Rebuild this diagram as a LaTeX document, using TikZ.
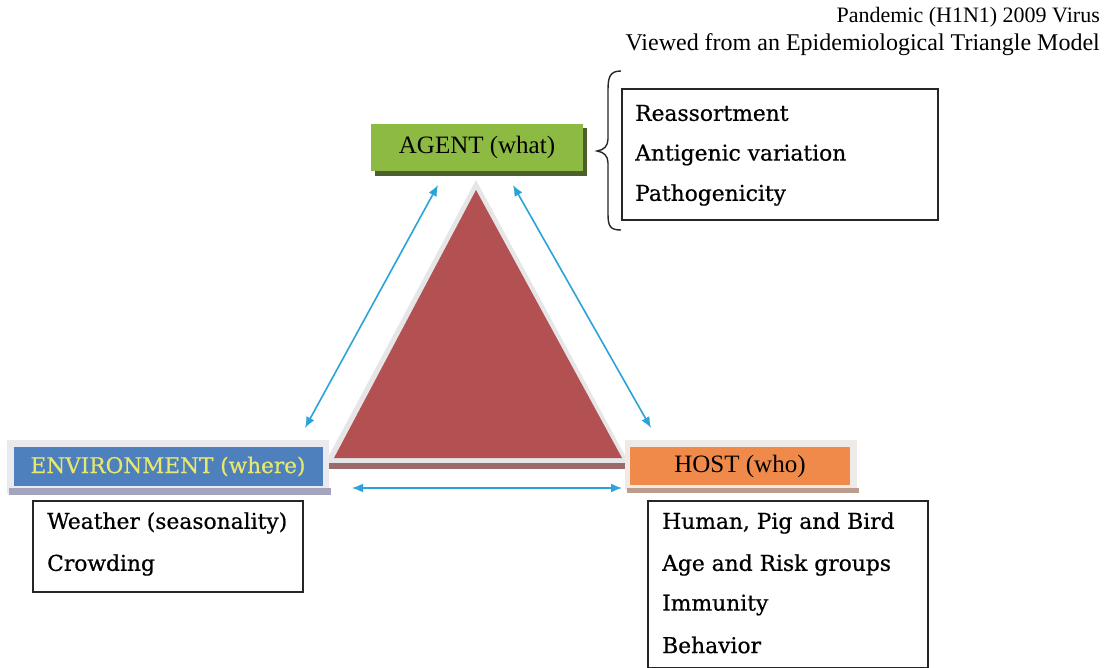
\documentclass[tikz,border=0pt]{standalone}
\usepackage{fontspec}
\setmainfont{Liberation Serif}
\newfontfamily\cent[FakeBold=0.6]{DejaVu Serif}
\usetikzlibrary{arrows.meta}
\definecolor{agentgreen}{HTML}{8DBA42}
\definecolor{agentshadow}{HTML}{4E5F2E}
\definecolor{envblue}{HTML}{4E80BD}
\definecolor{envtext}{HTML}{E8E86A}
\definecolor{envframe}{HTML}{E9E9EE}
\definecolor{envshadow}{HTML}{A4A4BC}
\definecolor{hostorange}{HTML}{EF8A4B}
\definecolor{hostframe}{HTML}{EEEAE8}
\definecolor{hostshadow}{HTML}{BC9C8C}
\definecolor{trired}{HTML}{B35152}
\definecolor{triborder}{HTML}{E6E6E8}
\definecolor{tribar}{HTML}{9C6A6B}
\definecolor{arrowblue}{HTML}{2BA2DA}
\tikzset{
  labelbox/.style={rectangle, inner sep=0pt, font=\fontsize{25}{30}\selectfont},
  listbox/.style={draw=black!85, line width=1.3pt, fill=white},
  listtext/.style={anchor=west, inner sep=0pt, font=\cent\fontsize{21.8}{26}\selectfont},
  titletext/.style={anchor=east, inner sep=0pt, font=\fontsize{24}{28}\selectfont},
  link/.style={draw=arrowblue, line width=1.6pt, {Latex[length=11pt,width=9pt]}-{Latex[length=11pt,width=9pt]}}
}
\begin{document}
\begin{tikzpicture}[x=1pt,y=-1pt]
\useasboundingbox (0,0) rectangle (1112,668);

% title
\node[titletext, font=\fontsize{22}{26}\selectfont] (t1) at (1100,17) {Pandemic (H1N1) 2009 Virus};
\node[titletext] (t2) at (1100,45) {Viewed from an Epidemiological Triangle Model};

% triangle
\fill[triborder] (476,180) -- (325,463) -- (629,463) -- cycle;
\fill[trired] (476,190) -- (334,458) -- (622,458) -- cycle;
\fill[tribar] (328,463) rectangle (626,469);

% agent
\fill[agentshadow] (375,128) rectangle (587,176);
\node[labelbox, fill=agentgreen, minimum width=212pt, minimum height=47pt] (agent) at (477,147.5) {AGENT (what)};

% environment
\fill[envframe] (7,440) rectangle (329,494);
\fill[envshadow] (9,488) rectangle (331,495);
\node[labelbox, fill=envblue, minimum width=309pt, minimum height=39pt, text=envtext, font=\cent\fontsize{21.6}{26}\selectfont] (env) at (168,466.5) {ENVIRONMENT (where)};

% host
\fill[hostframe] (625,440) rectangle (857,490);
\fill[hostshadow] (627,488) rectangle (859,493);
\node[labelbox, fill=hostorange, minimum width=220pt, minimum height=38pt] (host) at (740,466) {HOST (who)};

% arrows
\coordinate (la) at (438,185);
\coordinate (lb) at (305,428);
\coordinate (ra) at (513,185);
\coordinate (rb) at (651,428);
\coordinate (ba) at (352,488);
\coordinate (bb) at (622,488);
\draw[link] (lb) -- (la);
\draw[link] (ra) -- (rb);
\draw[link] (ba) -- (bb);

% agent list
\draw[listbox] (622,89) rectangle (938,220);
\node[listtext] (a1) at (635,113) {Reassortment};
\node[listtext] (a2) at (635,155) {Antigenic variation};
\node[listtext] (a3) at (635,195) {Pathogenicity};
\draw[line width=1.4pt, black!85] (621,71) .. controls (610,71) and (608,77) .. (608,90) -- (608,139) .. controls (608,146) and (604,150) .. (597,151) .. controls (604,152) and (608,156) .. (608,163) -- (608,214) .. controls (608,226) and (610,230) .. (621,230);

% environment list
\draw[listbox] (33,501) rectangle (303,592);
\node[listtext] (e1) at (47,523) {Weather (seasonality)};
\node[listtext] (e2) at (47,565) {Crowding};

% host list
\draw[listbox] (648,501) rectangle (928,668);
\node[listtext] (h1) at (662,523) {Human, Pig and Bird};
\node[listtext] (h2) at (662,565) {Age and Risk groups};
\node[listtext] (h3) at (662,605) {Immunity};
\node[listtext] (h4) at (662,645) {Behavior};
\end{tikzpicture}
\end{document}
